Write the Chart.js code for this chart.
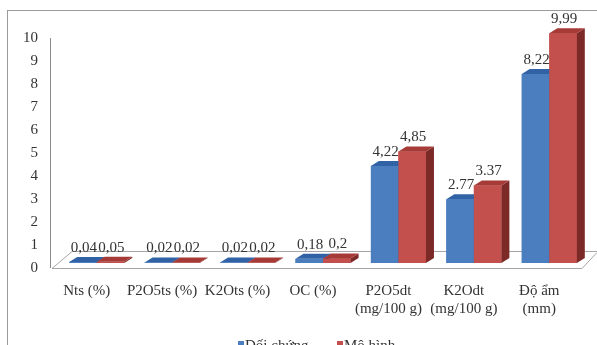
<!DOCTYPE html>
<html>
<head>
<meta charset="utf-8">
<script src="https://cdn.jsdelivr.net/npm/chart.js@4.4.1/dist/chart.umd.min.js"></script>
<style>
  html, body { margin: 0; padding: 0; background: #fff; overflow: hidden; }
  #wrap { width: 597px; height: 345px; position: relative; }
</style>
</head>
<body>
<div id="wrap"><canvas id="c" width="597" height="345"></canvas></div>
<script>
// Soil indicators, control plot vs. model plot
const categories = [
  ['Nts (%)'],
  ['P2O5ts (%)'],
  ['K2Ots (%)'],
  ['OC (%)'],
  ['P2O5dt', '(mg/100 g)'],
  ['K2Odt', '(mg/100 g)'],
  ['Độ ẩm', '(mm)']
];
const seriesNames = ['Đối chứng', 'Mô hình'];
const doiChung = [0.04, 0.02, 0.02, 0.18, 4.22, 2.77, 8.22];
const moHinh   = [0.05, 0.02, 0.02, 0.2, 4.85, 3.37, 9.99];
const doiChungLabels = ['0,04', '0,02', '0,02', '0,18', '4,22', '2.77', '8,22'];
const moHinhLabels   = ['0,05', '0,02', '0,02', '0,2', '4,85', '3.37', '9,99'];
const yTicks = [0, 1, 2, 3, 4, 5, 6, 7, 8, 9, 10];

const FONT = "'Liberation Serif', 'Times New Roman', serif";
const TEXT = '#333333';
const EDGE = '#a6a6a6';
const DEPTH_X = 8, DEPTH_Y = -5;   // bar depth offset

const faces = [
  { front: '#4a7ebf', top: '#3162a6', side: '#2c5589' },
  { front: '#c4504d', top: '#a63a37', side: '#7c2a28' }
];

// Frame, floor and left wall edge
const framePlugin = {
  id: 'frame',
  beforeDraw(chart) {
    const ctx = chart.ctx;
    ctx.save();
    ctx.fillStyle = '#fff';
    ctx.fillRect(0, 0, chart.width, chart.height);
    ctx.strokeStyle = '#9a9a9a';
    ctx.lineWidth = 1;
    ctx.strokeRect(7.5, 10.5, chart.width + 20, chart.height + 20);
    ctx.restore();
  },
  beforeDatasetsDraw(chart) {
    const ctx = chart.ctx, a = chart.chartArea, y = chart.scales.y;
    const y0 = y.getPixelForValue(0);
    const yTop = y.getPixelForValue(10);
    const front = y0 + 5, back = y0 - 12;
    ctx.save();
    ctx.strokeStyle = EDGE;
    ctx.lineWidth = 1;
    // floor
    ctx.beginPath();
    ctx.moveTo(a.left - 7, front + 0.5);
    ctx.lineTo(a.right - 5, front + 0.5);
    ctx.lineTo(a.right + 10, back + 1.5);
    ctx.lineTo(chart.width + 5, back + 1.5);
    ctx.moveTo(a.left - 7, front + 0.5);
    ctx.lineTo(a.left + 13, back + 0.5);
    ctx.lineTo(chart.width + 5, back + 0.5);
    ctx.stroke();
    // left wall edge
    ctx.strokeStyle = '#8c8c8c';
    ctx.beginPath();
    ctx.moveTo(a.left - 8.5, yTop + 5);
    ctx.lineTo(a.left - 8.5, front);
    ctx.stroke();
    ctx.restore();
  }
};

// Solid bars: front, top and side faces, left series first
const bar3dPlugin = {
  id: 'bar3d',
  afterDatasetsDraw(chart) {
    const ctx = chart.ctx;
    const metas = chart.data.datasets.map((ds, di) => chart.getDatasetMeta(di));
    ctx.save();
    chart.data.labels.forEach((lab, i) => {
      metas.forEach((meta, di) => {
        const f = faces[di];
        const bar = meta.data[i];
        const l = bar.x - bar.width / 2, r = bar.x + bar.width / 2;
        const t = bar.y, b = bar.base;
        ctx.fillStyle = f.front;
        ctx.fillRect(l, t, r - l, b - t);
        ctx.fillStyle = f.side;
        ctx.beginPath();
        ctx.moveTo(r, t); ctx.lineTo(r + DEPTH_X, t + DEPTH_Y);
        ctx.lineTo(r + DEPTH_X, b + DEPTH_Y); ctx.lineTo(r, b);
        ctx.closePath(); ctx.fill();
        ctx.fillStyle = f.top;
        ctx.beginPath();
        ctx.moveTo(l, t); ctx.lineTo(r, t);
        ctx.lineTo(r + DEPTH_X, t + DEPTH_Y); ctx.lineTo(l + DEPTH_X, t + DEPTH_Y);
        ctx.closePath(); ctx.fill();
      });
    });

    // value labels
    ctx.font = '15px ' + FONT;
    ctx.fillStyle = TEXT;
    ctx.textAlign = 'center';
    ctx.textBaseline = 'middle';
    chart.data.datasets.forEach((ds, di) => {
      metas[di].data.forEach((bar, i) => {
        ctx.fillText(ds.valueLabels[i], bar.x + 1, bar.y + DEPTH_Y - 9);
      });
    });

    // legend
    const legendX = [238, 337];
    ctx.textAlign = 'left';
    chart.data.datasets.forEach((ds, di) => {
      const x = legendX[di];
      ctx.fillStyle = ds.backgroundColor;
      ctx.fillRect(x, 341, 6, 6);
      ctx.fillStyle = TEXT;
      ctx.fillText(ds.label, x + 7, 346);
    });
    ctx.restore();
  }
};

new Chart(document.getElementById('c'), {
  type: 'bar',
  data: {
    labels: categories,
    datasets: [
      { label: seriesNames[0], data: doiChung, valueLabels: doiChungLabels,
        backgroundColor: faces[0].front },
      { label: seriesNames[1], data: moHinh, valueLabels: moHinhLabels,
        backgroundColor: faces[1].front }
    ]
  },
  options: {
    responsive: false,
    animation: false,
    events: [],
    layout: { padding: { top: 33, left: 0, right: 10, bottom: 0 } },
    datasets: { bar: { categoryPercentage: 0.73, barPercentage: 1.0, clip: false, borderWidth: 0 } },
    plugins: { legend: { display: false }, tooltip: { enabled: false } },
    scales: {
      x: {
        grid: { display: false, drawTicks: false },
        border: { display: false },
        ticks: { font: { family: FONT, size: 15, lineHeight: 1.2 }, color: TEXT,
                 padding: 19, labelOffset: -10, maxRotation: 0, autoSkip: false },
        afterFit(scale) { scale.height = 82; }
      },
      y: {
        min: 0, max: 10,
        afterBuildTicks(scale) { scale.ticks = yTicks.map(v => ({ value: v })); },
        grid: { display: false, drawTicks: false },
        border: { display: false },
        ticks: { font: { family: FONT, size: 15 }, color: TEXT, padding: 21, labelOffset: 5,
                 callback: v => String(v) },
        afterFit(scale) { scale.width = 59; }
      }
    }
  },
  plugins: [framePlugin, bar3dPlugin]
});
</script>
</body>
</html>
